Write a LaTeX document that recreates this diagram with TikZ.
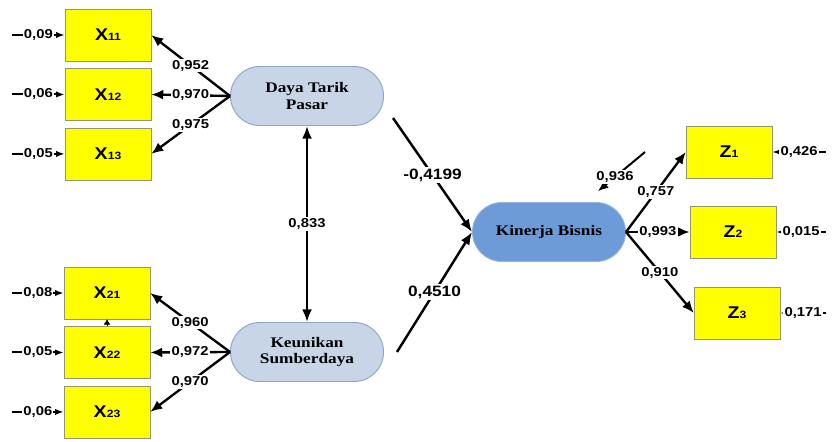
\documentclass[tikz,border=0pt]{standalone}
\usepackage{fontspec}
\setmainfont{Liberation Serif}[FakeStretch=1.18]
\setsansfont{Liberation Sans}[FakeStretch=1.15]
\usepackage{tikz}
\usetikzlibrary{arrows.meta, positioning}
\definecolor{indFill}{RGB}{255,255,0}
\definecolor{indLine}{RGB}{150,150,110}
\definecolor{latFill}{RGB}{200,213,230}
\definecolor{latLine}{RGB}{140,165,200}
\definecolor{endoFill}{RGB}{108,155,215}
\definecolor{endoLine}{RGB}{150,180,225}
\newcommand{\indlabel}[2]{{\fontsize{14.5}{15}\selectfont #1}{\fontsize{9}{10}\selectfont #2}}
\tikzset{
  indBox/.style={
    draw=indLine,
    fill=indFill,
    minimum width=25.8mm,
    minimum height=15.6mm,
    inner sep=0pt,
    font=\sffamily\bfseries
  },
  latent/.style={
    draw=latLine,
    thick,
    fill=latFill,
    rounded corners=8.8mm,
    minimum width=45.9mm,
    minimum height=17.7mm,
    align=center,
    font=\fontsize{12.5}{14}\selectfont\bfseries
  },
  endoNode/.style={latent, fill=endoFill, draw=endoLine},
  loading/.style={-{Latex[length=3.6mm,width=3mm]}, line width=2pt},
  effect/.style={-{Latex[length=3.8mm,width=3mm]}, line width=2.1pt},
  resid/.style={-{Latex[length=2.6mm,width=1.9mm]}, line width=1.7pt},
  val/.style={font=\sffamily\bfseries\fontsize{11}{12}\selectfont, fill=white, inner sep=1pt},
  bigval/.style={val, font=\sffamily\bfseries\fontsize{12.8}{14}\selectfont}
}

\begin{document}
\begin{tikzpicture}[x=0.3mm, y=-0.3mm]
  \useasboundingbox (0,0) rectangle (832,441);

  % indicator boxes
  \node[indBox] (x11) at (108,35) {\indlabel{X}{11}};
  \node[indBox, below=2.1mm of x11] (x12) {\indlabel{X}{12}};
  \node[indBox, below=2.1mm of x12] (x13) {\indlabel{X}{13}};
  \node[indBox] (x21) at (107,293) {\indlabel{X}{21}};
  \node[indBox, below=2.1mm of x21] (x22) {\indlabel{X}{22}};
  \node[indBox, below=2.1mm of x22] (x23) {\indlabel{X}{23}};
  \node[indBox] (z1) at (729,152) {\indlabel{Z}{1}};
  \node[indBox] (z2) at (733,232) {\indlabel{Z}{2}};
  \node[indBox] (z3) at (737,313) {\indlabel{Z}{3}};

  % constructs
  \node[latent] (daya) at (307,96) {Daya Tarik\\Pasar};
  \node[latent] (keun) at (307,352) {Keunikan\\Sumberdaya};
  \node[endoNode] (kinerja) at (549,232) {Kinerja Bisnis};

  \coordinate (errL) at (12,0);
  \coordinate (errR) at (826,0);
  \coordinate (dayaOut) at (393,118);
  \coordinate (keunOut) at (397,352);
  \coordinate (rk) at (645,152);

  % outer loadings
  \draw[loading] (daya.west) -- node[val] {0,952} (x11.east);
  \draw[loading] (daya.west) -- node[val] {0,970} (x12.east);
  \draw[loading] (daya.west) -- node[val] {0,975} (x13.east);
  \draw[loading] (keun.west) -- node[val] {0,960} (x21.east);
  \draw[loading] (keun.west) -- node[val] {0,972} (x22.east);
  \draw[loading] (keun.west) -- node[val] {0,970} (x23.east);
  \draw[loading] (kinerja.east) -- node[val] {0,757} (z1.west);
  \draw[loading] (kinerja.east) -- node[val] {0,993} (z2.west);
  \draw[loading] (kinerja.east) -- node[val] {0,910} (z3.west);

  % structural paths
  \draw[effect, {Latex[length=3.8mm,width=3mm]}-{Latex[length=3.8mm,width=3mm]}] (daya.south) -- node[val] {0,833} (keun.north);
  \draw[effect] (dayaOut) -- node[bigval] {-0,4199} (kinerja.west);
  \draw[effect] (keunOut) -- node[bigval] {0,4510} (kinerja.west);
  \draw[resid, -{Latex[length=3.2mm,width=2.6mm]}, shorten >=5mm] (rk) -- node[val] {0,936} (kinerja);

  % error terms
  \draw[resid] (x11.west -| errL) -- node[val] {0,09} (x11.west);
  \draw[resid] (x12.west -| errL) -- node[val] {0,06} (x12.west);
  \draw[resid] (x13.west -| errL) -- node[val] {0,05} (x13.west);
  \draw[resid] (x21.west -| errL) -- node[val] {0,08} (x21.west);
  \draw[resid] (x22.west -| errL) -- node[val] {0,05} (x22.west);
  \draw[resid] (x23.west -| errL) -- node[val] {0,06} (x23.west);
  \draw[resid] (z1.east -| errR) -- node[val] {0,426} (z1.east);
  \draw[resid] (z2.east -| errR) -- node[val] {0,015} (z2.east);
  \draw[resid] (z3.east -| errR) -- node[val] {0,171} (z3.east);
  \draw[-{Latex[length=1.6mm,width=2mm]}, line width=0.5pt] (x22.north) -- (x21.south);
\end{tikzpicture}
\end{document}
